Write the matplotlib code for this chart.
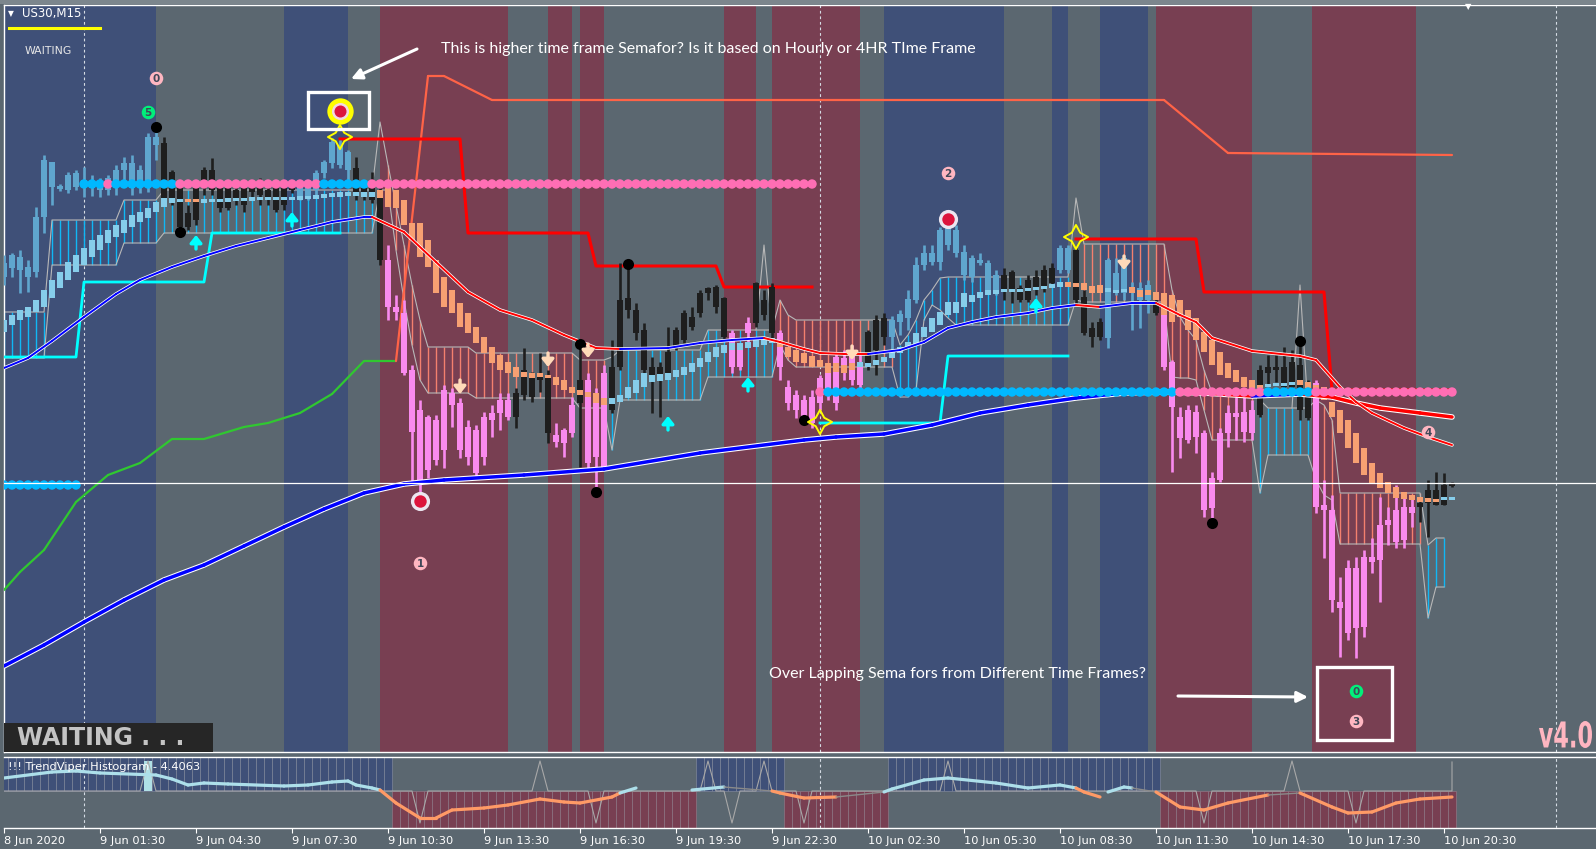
import numpy as np
import matplotlib
matplotlib.use('Agg')
import matplotlib.pyplot as plt
from matplotlib.patches import Rectangle, PathPatch
from matplotlib.lines import Line2D
from matplotlib.textpath import TextPath
from matplotlib.font_manager import FontProperties
from matplotlib.transforms import Affine2D

plt.rcParams['font.family'] = ['DejaVu Sans']

W, H = 1596, 849

#### PRICE DATA (US30 M15)
opens = [27223, 27232, 27230, 27223, 27228, 27283, 27313, 27311, 27310, 27313,
         27313, 27312, 27310, 27310, 27313, 27330, 27312, 27317, 27313, 27355,
         27357, 27328, 27313, 27287, 27312, 27330, 27330, 27312, 27312, 27310,
         27312, 27315, 27320, 27310, 27315, 27315, 27315, 27302, 27303, 27310,
         27327, 27337, 27335, 27330, 27332, 27312, 27320, 27310, 27240, 27193,
         27187, 27130, 27090, 27083, 27080, 27110, 27107, 27097, 27073, 27070,
         27083, 27087, 27100, 27100, 27107, 27130, 27123, 27127, 27123, 27065,
         27070, 27095, 27120, 27120, 27107, 27127, 27133, 27200, 27202, 27190,
         27170, 27133, 27133, 27148, 27170, 27187, 27183, 27207, 27212, 27213,
         27202, 27167, 27153, 27177, 27217, 27200, 27213, 27167, 27113, 27105,
         27100, 27103, 27122, 27130, 27143, 27142, 27147, 27138, 27168, 27180,
         27182, 27163, 27178, 27182, 27200, 27235, 27238, 27238, 27255, 27247,
         27225, 27223, 27237, 27210, 27210, 27225, 27228, 27212, 27220, 27223,
         27230, 27232, 27230, 27230, 27250, 27203, 27172, 27178, 27162, 27210,
         27207, 27207, 27200, 27200, 27198, 27188, 27138, 27083, 27090, 27088,
         27067, 27022, 27067, 27087, 27087, 27088, 27090, 27130, 27133, 27133,
         27133, 27138, 27135, 27117, 27117, 26995, 26990, 26898, 26932, 26932,
         26943, 26943, 26975, 26980, 26990, 26993, 26993, 26997, 27010, 27010,
         27015, 27017]
highs = [27245, 27247, 27250, 27240, 27293, 27345, 27338, 27316, 27328, 27330,
         27333, 27325, 27322, 27325, 27335, 27343, 27345, 27335, 27367, 27370,
         27363, 27330, 27315, 27295, 27315, 27333, 27342, 27315, 27315, 27315,
         27315, 27320, 27322, 27315, 27318, 27318, 27317, 27315, 27317, 27330,
         27340, 27362, 27360, 27350, 27343, 27320, 27328, 27315, 27255, 27205,
         27200, 27135, 27100, 27085, 27085, 27115, 27112, 27102, 27080, 27075,
         27088, 27095, 27107, 27107, 27112, 27152, 27128, 27147, 27130, 27077,
         27072, 27103, 27155, 27127, 27112, 27135, 27160, 27237, 27237, 27197,
         27177, 27143, 27138, 27173, 27173, 27190, 27193, 27210, 27213, 27215,
         27203, 27170, 27157, 27183, 27218, 27210, 27217, 27170, 27120, 27110,
         27105, 27110, 27125, 27135, 27148, 27150, 27155, 27145, 27170, 27185,
         27187, 27184, 27190, 27210, 27243, 27255, 27255, 27273, 27275, 27275,
         27255, 27245, 27247, 27240, 27230, 27232, 27230, 27215, 27225, 27230,
         27235, 27237, 27255, 27255, 27253, 27210, 27178, 27182, 27242, 27242,
         27245, 27218, 27218, 27220, 27205, 27195, 27140, 27093, 27095, 27095,
         27070, 27028, 27072, 27095, 27103, 27105, 27100, 27135, 27145, 27145,
         27153, 27150, 27158, 27120, 27120, 27020, 27005, 26923, 26940, 26943,
         26950, 26962, 27003, 26993, 27015, 27007, 27002, 27000, 27020, 27028,
         27027, 27018]
lows = [27215, 27223, 27207, 27208, 27223, 27267, 27295, 27309, 27307, 27310,
        27303, 27304, 27303, 27305, 27305, 27313, 27305, 27307, 27308, 27340,
        27295, 27295, 27267, 27270, 27275, 27305, 27305, 27288, 27290, 27295,
        27288, 27300, 27295, 27295, 27288, 27290, 27307, 27300, 27300, 27305,
        27322, 27332, 27332, 27315, 27300, 27300, 27297, 27235, 27180, 27180,
        27125, 27015, 27003, 27022, 27035, 27032, 27073, 27042, 27035, 27022,
        27035, 27063, 27070, 27080, 27072, 27100, 27098, 27108, 27057, 27053,
        27043, 27063, 27033, 27030, 27008, 27030, 27087, 27130, 27182, 27160,
        27127, 27087, 27083, 27123, 27150, 27157, 27170, 27183, 27200, 27187,
        27160, 27127, 27130, 27153, 27173, 27180, 27160, 27120, 27090, 27082,
        27075, 27072, 27090, 27100, 27090, 27120, 27115, 27110, 27130, 27125,
        27155, 27150, 27165, 27170, 27197, 27230, 27235, 27230, 27250, 27243,
        27220, 27218, 27235, 27207, 27205, 27200, 27197, 27198, 27198, 27205,
        27208, 27215, 27227, 27227, 27195, 27165, 27153, 27160, 27152, 27205,
        27200, 27170, 27172, 27187, 27185, 27130, 27028, 27042, 27057, 27047,
        26983, 26982, 27018, 27053, 27060, 27058, 27060, 27083, 27115, 27118,
        27110, 27108, 27080, 27080, 26987, 26942, 26888, 26843, 26860, 26842,
        26863, 26927, 26898, 26955, 26952, 26952, 26973, 26978, 26963, 26995,
        26995, 27013]
closes = [27237, 27245, 27243, 27233, 27283, 27340, 27338, 27314, 27325, 27327,
          27320, 27318, 27315, 27322, 27330, 27337, 27337, 27330, 27363, 27363,
          27302, 27302, 27273, 27273, 27280, 27312, 27310, 27292, 27292, 27302,
          27295, 27308, 27305, 27300, 27290, 27295, 27310, 27313, 27315, 27327,
          27338, 27358, 27355, 27348, 27305, 27305, 27300, 27240, 27193, 27188,
          27127, 27068, 27015, 27030, 27040, 27050, 27095, 27050, 27043, 27027,
          27043, 27080, 27087, 27083, 27083, 27105, 27103, 27120, 27067, 27058,
          27057, 27067, 27097, 27037, 27043, 27033, 27090, 27133, 27190, 27167,
          27130, 27120, 27120, 27127, 27153, 27160, 27173, 27187, 27207, 27193,
          27163, 27133, 27133, 27167, 27177, 27185, 27167, 27133, 27097, 27090,
          27083, 27077, 27097, 27105, 27097, 27135, 27120, 27115, 27133, 27150,
          27163, 27180, 27186, 27201, 27235, 27247, 27247, 27270, 27272, 27270,
          27248, 27242, 27240, 27237, 27225, 27210, 27210, 27200, 27200, 27210,
          27213, 27217, 27252, 27252, 27200, 27167, 27163, 27163, 27240, 27227,
          27242, 27213, 27212, 27215, 27187, 27133, 27093, 27062, 27060, 27063,
          26990, 26992, 27020, 27067, 27083, 27068, 27067, 27085, 27127, 27130,
          27113, 27113, 27090, 27082, 26993, 26990, 26900, 26892, 26867, 26872,
          26873, 26938, 26940, 26975, 26958, 26960, 26987, 26993, 26997, 26995,
          26995, 27014]
candle_runs = [(20, 'b'), (17, 'k'), (7, 'b'), (4, 'k'), (16, 'p'), (5, 'k'), (3, 'p'), (1, 'k'),
               (3, 'p'), (15, 'k'), (3, 'p'), (3, 'k'), (11, 'p'), (3, 'k'), (14, 'b'), (7, 'k'),
               (2, 'b'), (4, 'k'), (6, 'b'), (1, 'k'), (12, 'p'), (7, 'k'), (13, 'p'), (5, 'k')]

#### SMOOTHED HEIKEN ASHI BODIES
ha_hi = [27180, 27185, 27190, 27193, 27200, 27210, 27220, 27228, 27238, 27245,
         27252, 27260, 27265, 27270, 27275, 27280, 27285, 27288, 27292, 27298,
         27302, 27302, 27301, 27301, 27301, 27301, 27301, 27301, 27302, 27302,
         27302, 27303, 27303, 27303, 27303, 27303, 27303, 27304, 27304, 27305,
         27306, 27307, 27308, 27308, 27308, 27308, 27308, 27310, 27312, 27310,
         27300, 27277, 27277, 27260, 27240, 27223, 27210, 27197, 27187, 27173,
         27163, 27153, 27145, 27138, 27133, 27128, 27127, 27127, 27125, 27123,
         27120, 27113, 27110, 27108, 27107, 27102, 27102, 27105, 27113, 27120,
         27127, 27125, 27126, 27127, 27130, 27133, 27137, 27142, 27148, 27153,
         27155, 27157, 27157, 27158, 27160, 27162, 27162, 27160, 27153, 27150,
         27147, 27144, 27140, 27137, 27137, 27135, 27137, 27138, 27137, 27140,
         27143, 27148, 27153, 27158, 27167, 27173, 27182, 27188, 27198, 27198,
         27207, 27205, 27208, 27210, 27210, 27211, 27211, 27211, 27212, 27212,
         27213, 27216, 27218, 27218, 27217, 27217, 27214, 27215, 27212, 27210,
         27211, 27213, 27210, 27210, 27208, 27207, 27205, 27200, 27190, 27182,
         27168, 27160, 27148, 27137, 27130, 27123, 27120, 27115, 27116, 27117,
         27117, 27118, 27120, 27118, 27115, 27113, 27098, 27090, 27080, 27067,
         27052, 27037, 27027, 27018, 27013, 27008, 27005, 27003, 27002, 27001,
         27002, 27003]
ha_lo = [27168, 27175, 27180, 27183, 27188, 27193, 27202, 27212, 27220, 27228,
         27235, 27243, 27250, 27257, 27263, 27267, 27273, 27278, 27282, 27288,
         27293, 27297, 27298, 27298, 27298, 27297, 27298, 27298, 27298, 27299,
         27299, 27299, 27300, 27300, 27300, 27300, 27300, 27300, 27301, 27301,
         27302, 27303, 27303, 27304, 27304, 27303, 27303, 27302, 27293, 27292,
         27275, 27260, 27243, 27233, 27207, 27193, 27187, 27173, 27167, 27157,
         27147, 27137, 27130, 27127, 27123, 27123, 27122, 27123, 27122, 27115,
         27110, 27107, 27105, 27103, 27097, 27095, 27096, 27098, 27102, 27107,
         27113, 27118, 27119, 27120, 27123, 27125, 27128, 27133, 27138, 27143,
         27147, 27150, 27150, 27152, 27153, 27155, 27157, 27153, 27143, 27138,
         27137, 27133, 27133, 27127, 27128, 27127, 27130, 27133, 27133, 27135,
         27138, 27142, 27147, 27152, 27155, 27163, 27168, 27175, 27185, 27187,
         27193, 27198, 27202, 27205, 27206, 27208, 27208, 27208, 27209, 27210,
         27211, 27212, 27213, 27213, 27213, 27210, 27207, 27207, 27208, 27207,
         27208, 27207, 27203, 27205, 27200, 27185, 27178, 27183, 27170, 27160,
         27148, 27135, 27125, 27122, 27118, 27113, 27112, 27112, 27113, 27114,
         27114, 27115, 27115, 27112, 27110, 27100, 27083, 27067, 27052, 27037,
         27025, 27017, 27012, 27007, 27002, 27001, 27000, 26998, 26998, 26998,
         27000, 27000]
ha_runs = [(23, 'c'), (2, 'o'), (22, 'c'), (29, 'o'), (21, 'c'), (10, 'o'), (26, 'c'),
           (5, 'o'), (3, 'c'), (17, 'o'), (4, 'c'), (18, 'o'), (2, 'c')]

#### STEP CHANNEL (runs of bars)
chan_n = [6, 9, 5, 27, 1, 1, 1, 1, 1, 1, 6, 13, 4, 1, 11, 9, 1, 1, 13, 1, 1, 1, 1, 1, 1, 1,
          15, 1, 11, 1, 1, 1, 1, 1, 1, 5, 1, 6, 1, 1, 1, 11, 1, 2]
chan_top = [27188, 27280, 27300, 27310, 27378, 27335, 27295, 27255, 27215, 27180, 27153,
            27147, 27140, 27143, 27150, 27170, 27200, 27185, 27180, 27155, 27165, 27180,
            27200, 27210, 27222, 27223, 27223, 27302, 27256, 27210, 27183, 27170, 27160,
            27130, 27107, 27105, 27100, 27092, 27100, 27095, 27080, 27007, 26955, 26962]
chan_bot = [27142, 27235, 27257, 27267, 27310, 27310, 27250, 27200, 27155, 27120, 27107,
            27102, 27092, 27050, 27100, 27123, 27155, 27140, 27133, 27103, 27103, 27110,
            27180, 27195, 27190, 27182, 27175, 27200, 27198, 27123, 27122, 27122, 27120,
            27090, 27060, 27060, 27007, 27045, 27020, 27005, 27000, 26956, 26882, 26913]
chan_col = 'cccc' + 'n' + 'ssssssss' + 'ccc' + 'sss' + 'cccccccc' + 'n' + 'ssssssss' + 'cc' + 'ssss' + 'cc'
extra_spike_bars = [95, 162]
extra_spike_vals = [27255, 27215]

#### MOVING AVERAGES AND LEVELS
slow_bars = [0, 5, 10, 15, 20, 25, 30, 35, 40, 45, 50, 55, 65, 75, 87, 100, 104, 110, 116, 122,
             128, 134, 140, 145, 150, 156, 162, 166, 169, 172, 177, 181]
slow_vals = [26834, 26855, 26878, 26900, 26920, 26935, 26954, 26973, 26991, 27007, 27016,
             27020, 27025, 27031, 27047, 27060, 27063, 27066, 27075, 27087, 27095, 27102,
             27107, 27108, 27107, 27104, 27106, 27103, 27097, 27092, 27087, 27083]
slow_cols = 'b' * 23 + 'r' * 2 + 'b' + 'r' * 6

fast_bars = [0, 3, 6, 10, 14, 17, 21, 25, 29, 33, 37, 41, 45, 46, 50, 54, 58, 62, 66, 70, 74,
             77, 83, 87, 91, 95, 97, 100, 102, 105, 108, 112, 115, 118, 121, 124, 128, 131,
             134, 137, 141, 144, 147, 149, 151, 156, 162, 164, 167, 169, 171, 175, 178, 181]
fast_vals = [27132, 27142, 27159, 27183, 27206, 27220, 27233, 27244, 27254, 27262, 27270,
             27278, 27283, 27283, 27268, 27238, 27208, 27190, 27180, 27165, 27152, 27151,
             27152, 27157, 27160, 27162, 27158, 27151, 27147, 27146, 27146, 27150, 27158,
             27172, 27178, 27183, 27187, 27192, 27195, 27193, 27197, 27197, 27185, 27178,
             27162, 27149, 27144, 27140, 27113, 27098, 27087, 27072, 27063, 27055]
fast_cols = 'b' * 13 + 'r' * 8 + 'b' * 4 + 'r' * 5 + 'b' * 8 + 'r' + 'b' * 2 + 'r' * 13

trend_bars = [0, 2, 5, 9, 13, 17, 21, 25, 30, 33, 37, 41, 45, 49, 53, 55, 61, 145, 153, 181]
trend_vals = [26910, 26928, 26950, 26998, 27025, 27037, 27061, 27061, 27073, 27077, 27087,
              27106, 27139, 27139, 27424, 27424, 27400, 27400, 27347, 27345]
trend_cols = 'g' * 13 + 'o' * 7

cyan1_bars = [0, 9, 10, 25, 26, 42]
cyan1_vals = [27143, 27143, 27218, 27218, 27267, 27267]
cyan2_bars = [102, 117, 118, 133]
cyan2_vals = [27077, 27077, 27144, 27144]
red1_bars = [42, 57, 58, 73, 74, 89, 90, 101]
red1_vals = [27361, 27361, 27267, 27267, 27234, 27234, 27213, 27213]
red2_bars = [134, 149, 150, 165, 166, 181]
red2_vals = [27261, 27261, 27208, 27208, 27110, 27110]

dot_level_runs = [(10, 27015), (92, 27316), (80, 27108)]
dot_col_runs = [(13, 'c'), (1, 'p'), (8, 'c'), (18, 'p'), (6, 'c'), (57, 'p'), (44, 'c'),
                (11, 'p'), (6, 'c'), (18, 'p')]
last_price = 27017

#### SEMAFOR / SIGNALS
black_dot_bars = [19, 22, 72, 74, 78, 100, 151, 162]
black_dot_vals = [27373, 27268, 27156, 27008, 27236, 27080, 26977, 27159]
ring_bars = [52, 118]
ring_vals = [26999, 27281]
big_ring_bar, big_ring_val = 42, 27389
star_bars = [42, 102, 134]
star_vals = [27363, 27078, 27263]
num_text = ['0', '5', '2', '1', '4', '0', '3']
num_bars = [19, 18, 118, 52, 178, 169, 169]
num_vals = [27422, 27388, 27327, 26937, 27068, 26809, 26779]
num_cols = ['p', 'g', 'p', 'p', 'p', 'g', 'p']
up_arrow_bars = [24, 36, 83, 93, 129]
up_arrow_vals = [27258, 27281, 27077, 27116, 27195]
dn_arrow_bars = [57, 68, 73, 106, 140]
dn_arrow_vals = [27113, 27140, 27149, 27147, 27237]

#### BACKGROUND BANDS
band_starts = [-1, 19, 35, 43, 47, 63, 68, 71, 72, 75, 90, 94, 96, 107, 110, 125, 131, 133,
               137, 143, 144, 156, 163.5, 176.5]
band_cols = 'BGBGRGRGRGRGRGBGBGBGRGRG'
day_lines = [10, 102, 194]

#### TRENDVIPER HISTOGRAM
hist_runs = [(0, 48, 1), (49, 86, -1), (87, 97, 1), (98, 110, -1), (111, 144, 1), (145, 181, -1)]
sig_bars = [0, 6, 9, 12, 19, 21, 23, 25, 28, 35, 38, 41, 43, 44, 46, 47, 49, 52, 54, 56,
            60, 63, 67, 70, 72, 76, 77, 79, 86, 90, 96, 97, 100, 104, 110, 111, 115, 118, 124, 128,
            132, 134, 135, 137, 138, 140, 141, 144, 147, 150, 153, 158, 162, 166, 168, 171, 174, 177, 181]
sig_vals = [1.3, 1.9, 2.0, 1.8, 1.6, 1.2, 0.6, 0.8, 0.7, 0.5, 0.6, 0.9, 1.0, 0.6, 0.3, 0.1, -1.2,
            -2.7, -2.7, -1.9, -1.7, -1.4, -0.8, -1.1, -1.2, -0.6, -0.2, 0.3, 0.1, 0.4, 0.0, -0.2,
            -0.7, -0.6, -0.1, 0.2, 1.1, 1.3, 0.8, 0.3, 0.6, 0.3, -0.1, -0.6, -0.1, 0.4, 0.3, -0.1,
            -1.6, -1.9, -1.2, -0.4, -0.2, -1.6, -2.2, -2.1, -1.2, -0.8, -0.6]
sig_cols = ('c' * 15 + 's' * 11 + 'c' + 'n' + 'c' + 'g' + 's' * 3 + 'g' + 'c' * 7 + 's' * 2 + 'n'
            + 'c' * 2 + 'g' + 's' * 4 + 'g' + 's' * 7)
spike_up_bars = [18, 67, 88, 95, 118, 161]
spike_up_vals = [3.0, 3.0, 3.0, 3.0, 3.0, 3.0]
spike_dn_bars = [52, 74, 91, 100, 150, 169]
spike_dn_vals = [-3.2, -3.2, -3.2, -3.2, -3.2, -3.2]
hist_marker_bar, hist_marker_val = 18, 3.0

tick_bars = [0, 12, 24, 36, 48, 60, 72, 84, 96, 108, 120, 132, 144, 156, 168, 180]
tick_labels = ['8 Jun 2020', '9 Jun 01:30', '9 Jun 04:30', '9 Jun 07:30', '9 Jun 10:30',
               '9 Jun 13:30', '9 Jun 16:30', '9 Jun 19:30', '9 Jun 22:30', '10 Jun 02:30',
               '10 Jun 05:30', '10 Jun 08:30', '10 Jun 11:30', '10 Jun 14:30', '10 Jun 17:30',
               '10 Jun 20:30']


def runs(pairs):
    return [v for n, v in pairs for _ in range(n)]


def fp(x, y):
    # pixel position -> figure fraction (for notes/labels only)
    return x / W, 1 - y / H


BG = '#5B6770'
BAND = {'B': '#3F5078', 'R': '#783F52', 'G': '#5B6770'}
CANDLE = {'b': '#5FA6CE', 'k': '#1E1E1E', 'p': '#F98AEE'}
HA = {'c': '#86CDEA', 'o': '#F7A072'}
CHAN = {'c': '#10B8F5', 's': '#F4806E'}
DOT = {'c': '#00B8FF', 'p': '#FF6EB4'}

fig = plt.figure(figsize=(W / 100, H / 100), dpi=100, facecolor=BG)
fig.add_artist(Rectangle((0, 1 - 4 / H), 1, 4 / H, transform=fig.transFigure, color='#7C868D', lw=0))
ax = fig.add_axes([4 / W, 1 - 752 / H, 1592 / W, 747 / H])
ax2 = fig.add_axes([4 / W, 1 - 828 / H, 1592 / W, 71 / H])
for a in (ax, ax2):
    a.set_facecolor(BG)
    a.set_xlim(0, 199)
    for s in a.spines.values():
        s.set_color('white')
        s.set_linewidth(1.0)
    a.spines['right'].set_visible(False)
ax.set_ylim(26748, 27495)
ax.set_xticks([])
ax.set_yticks([])

#### bands
ends = band_starts[1:] + [210]
for s, e, c in zip(band_starts, ends, band_cols):
    ax.axvspan(s, e, color=BAND[c], lw=0, zorder=0)
for d in day_lines:
    ax.axvline(d, color='#D5DCE4', lw=0.8, ls=(0, (2.5, 2.5)), zorder=1)
    ax2.axvline(d, color='#D5DCE4', lw=0.8, ls=(0, (2.5, 2.5)), zorder=3)

#### channel
ctop = np.repeat(chan_top, chan_n)
cbot = np.repeat(chan_bot, chan_n)
ccol = np.repeat(list(chan_col), chan_n)
cx = np.arange(len(ctop))
for i in cx:
    if ccol[i] != 'n':
        ax.vlines(i, cbot[i], ctop[i], color=CHAN[ccol[i]], lw=1.0, zorder=2)
ax.plot(cx, ctop, color='#B8B8B8', lw=0.8, zorder=2)
ax.plot(cx, cbot, color='#B8B8B8', lw=0.8, zorder=2)
for b, v in zip(extra_spike_bars, extra_spike_vals):
    ax.plot([b - 1, b, b + 1], [ctop[b - 1], v, ctop[b + 1]], color='#B8B8B8', lw=0.8, zorder=2)

#### step lines
for i in range(len(trend_bars) - 1):
    c = '#30C830' if trend_cols[i] == 'g' else '#FF6347'
    ax.plot(trend_bars[i:i + 2], trend_vals[i:i + 2], color=c, lw=1.6, zorder=3, solid_capstyle='round')
ax.plot(cyan1_bars, cyan1_vals, color='#00FFFF', lw=2.0, zorder=3)
ax.plot(cyan2_bars, cyan2_vals, color='#00FFFF', lw=2.0, zorder=3)
ax.plot(red1_bars, red1_vals, color='#FF0000', lw=2.2, zorder=3)
ax.plot(red2_bars, red2_vals, color='#FF0000', lw=2.2, zorder=3)

#### candles
x = np.arange(len(closes))
ccols = [CANDLE[c] for c in runs(candle_runs)]
o = np.array(opens)
c = np.array(closes)
bot = np.minimum(o, c)
hgt = np.maximum(np.abs(c - o), 3)
ax.vlines(x, lows, highs, colors=ccols, lw=1.9, zorder=4)
ax.bar(x, hgt, bottom=bot, width=0.86, color=ccols, lw=0, zorder=4)

hcols = [HA[h] for h in runs(ha_runs)]
hh = np.maximum(np.array(ha_hi) - np.array(ha_lo), 3)
ax.bar(x, hh, bottom=ha_lo, width=0.66, color=hcols, lw=0, zorder=5)

#### moving averages
MA = {'b': '#0000FF', 'r': '#FF0000'}
ax.plot(slow_bars, slow_vals, color='white', lw=4.0, zorder=6, solid_capstyle='round')
for i in range(len(slow_bars) - 1):
    ax.plot(slow_bars[i:i + 2], slow_vals[i:i + 2], color=MA[slow_cols[i]], lw=2.5, zorder=6,
            solid_capstyle='round')
ax.plot(fast_bars, fast_vals, color='white', lw=2.5, zorder=6, solid_capstyle='round')
for i in range(len(fast_bars) - 1):
    ax.plot(fast_bars[i:i + 2], fast_vals[i:i + 2], color=MA[fast_cols[i]], lw=1.4, zorder=6,
            solid_capstyle='round')

#### dot levels
dl = runs(dot_level_runs)
dc = [DOT[d] for d in runs(dot_col_runs)]
ax.scatter(np.arange(len(dl)), dl, s=46, c=dc, lw=0, zorder=7)
ax.axhline(last_price, color='white', lw=0.9, zorder=8)

#### signals
ax.scatter(black_dot_bars, black_dot_vals, s=64, c='black', lw=0, zorder=9)
ax.scatter(ring_bars, ring_vals, s=190, c='#ECE6F0', lw=0, zorder=9)
ax.scatter(ring_bars, ring_vals, s=80, c='#DC143C', lw=0, zorder=9)
ax.scatter([big_ring_bar], [big_ring_val], s=360, c='#FFFF00', lw=0, zorder=9)
ax.scatter([big_ring_bar], [big_ring_val], s=150, c='#F2D8E4', lw=0, zorder=9)
ax.scatter([big_ring_bar], [big_ring_val], s=75, c='#DC143C', lw=0, zorder=9)
ax.scatter(star_bars, star_vals, s=300, marker=(4, 1, 0), facecolor='none', edgecolor='#FFFF00',
           lw=1.4, zorder=9)
for t, b, v, k in zip(num_text, num_bars, num_vals, num_cols):
    ax.scatter([b], [v], s=95, c='#00F07A' if k == 'g' else '#FFB6C1', lw=0, zorder=9)
    ax.text(b, v - 1, t, color='#404858', fontsize=7.5, fontweight='bold', ha='center',
            va='center', zorder=10)
for b, v in zip(up_arrow_bars, up_arrow_vals):
    ax.annotate('', xy=(b, v + 7), xytext=(b, v - 7),
                arrowprops=dict(arrowstyle='-|>,head_width=0.32,head_length=0.4', color='#00FFFF',
                                lw=2.4, mutation_scale=11, shrinkA=0, shrinkB=0), zorder=9)
for b, v in zip(dn_arrow_bars, dn_arrow_vals):
    ax.annotate('', xy=(b, v - 7), xytext=(b, v + 7),
                arrowprops=dict(arrowstyle='-|>,head_width=0.32,head_length=0.4', color='#FFDAB9',
                                lw=2.4, mutation_scale=11, shrinkA=0, shrinkB=0), zorder=9)

#### histogram panel
ax2.set_ylim(-3.7, 3.4)
ax2.set_yticks([])
for b0, b1, sgn in hist_runs:
    xb = np.arange(b0, b1 + 1)
    if sgn > 0:
        ax2.bar(xb, 3.4, bottom=0, width=1.0, color=BAND['B'], edgecolor='#7E8699', lw=0.5, zorder=1)
    else:
        ax2.bar(xb, -3.7, bottom=0, width=1.0, color=BAND['R'], edgecolor='#8E7684', lw=0.5, zorder=1)
ax2.bar([hist_marker_bar], [hist_marker_val], width=1.0, color='#B0E0E6', lw=0, zorder=2)
sp = sorted(list(zip(spike_up_bars, spike_up_vals)) + list(zip(spike_dn_bars, spike_dn_vals)))
sx, sy = [0], [0]
for b, v in sp:
    sx += [b - 1, b, b + 1]
    sy += [0, v, 0]
sx += [181, 181]
sy += [0, 2.9]
ax2.plot(sx, sy, color='#A8A8A8', lw=0.8, zorder=3)
SIG = {'c': '#ADDFEA', 's': '#FF9A66', 'g': '#8A8A8A'}
for i in range(len(sig_bars) - 1):
    k = sig_cols[i]
    if k == 'n':
        continue
    ax2.plot(sig_bars[i:i + 2], sig_vals[i:i + 2], color=SIG[k], lw=1.0 if k == 'g' else 2.3,
             zorder=4, solid_capstyle='round')

ax2.set_xticks(tick_bars)
ax2.set_xticklabels(tick_labels, ha='left')
ax2.tick_params(axis='x', colors='white', labelcolor='white', labelsize=8.2, length=3.5,
                width=0.8, pad=2)
ax2.spines['left'].set_visible(False)

#### labels and notes
fig.text(*fp(8, 14), '\u25bc', color='white', fontsize=5.5, va='center')
fig.text(*fp(22, 14), 'US30,M15', color='white', fontsize=8.5, va='center')
fig.add_artist(Line2D([9 / W, 100 / W], [1 - 28 / H] * 2, color='#FFFF00', lw=2.2,
                      transform=fig.transFigure))
fig.text(*fp(25, 51), 'WAITING', color='#E6E6E6', fontsize=7.8, va='center')
fig.text(*fp(1468, 7), '\u25bc', color='white', fontsize=6, ha='center', va='center')
fig.text(*fp(8, 767), '!!! TrendViper Histogram - 4.4063', color='white', fontsize=8.2, va='center')

fig.add_artist(Rectangle(fp(4, 752), 209 / W, 29 / H, transform=fig.transFigure,
                         color='#262626', lw=0, zorder=20))
fig.text(*fp(17, 738), 'WAITING . . .', color='#C4C4C4', fontsize=17, fontweight='bold',
         va='center', zorder=21)

# condensed "v4.0" tag, squeezed horizontally in pixel space
vpath = TextPath((0, 0), 'v4.0', size=37, prop=FontProperties(family='DejaVu Sans', weight='bold'))
vext = vpath.get_extents()
sx_ = 53 / vext.width
vtr = Affine2D().translate(-vext.x0, -vext.y0).scale(sx_, 27 / vext.height).translate(1539, H - 748)
fig.add_artist(PathPatch(vpath, transform=vtr, color='#FFB6C1', lw=0, zorder=21))

fig.add_artist(Rectangle(fp(308, 129), 61 / W, 37 / H, transform=fig.transFigure,
                         fill=False, ec='white', lw=2.4, zorder=20))
fig.add_artist(Rectangle(fp(1317, 740), 75 / W, 73 / H, transform=fig.transFigure,
                         fill=False, ec='white', lw=2.4, zorder=20))
ax.annotate('', xy=fp(351, 79), xycoords='figure fraction', xytext=fp(417, 49),
            textcoords='figure fraction',
            arrowprops=dict(arrowstyle='-|>', color='white', lw=2.2, mutation_scale=16,
                            shrinkA=0, shrinkB=0), zorder=20)
ax.annotate('', xy=fp(1308, 697), xycoords='figure fraction', xytext=fp(1178, 696),
            textcoords='figure fraction',
            arrowprops=dict(arrowstyle='-|>', color='white', lw=2.2, mutation_scale=16,
                            shrinkA=0, shrinkB=0), zorder=20)
fig.text(*fp(441, 49), 'This is higher time frame Semafor? Is it based on Hourly or 4HR TIme Frame',
         color='white', fontsize=11.5, va='center', family=['Lato', 'DejaVu Sans'], zorder=21)
fig.text(*fp(769, 674), 'Over Lapping Sema fors from Different Time Frames?',
         color='white', fontsize=11.5, va='center', family=['Lato', 'DejaVu Sans'], zorder=21)

fig.savefig('out.png', dpi=100, facecolor=BG)
